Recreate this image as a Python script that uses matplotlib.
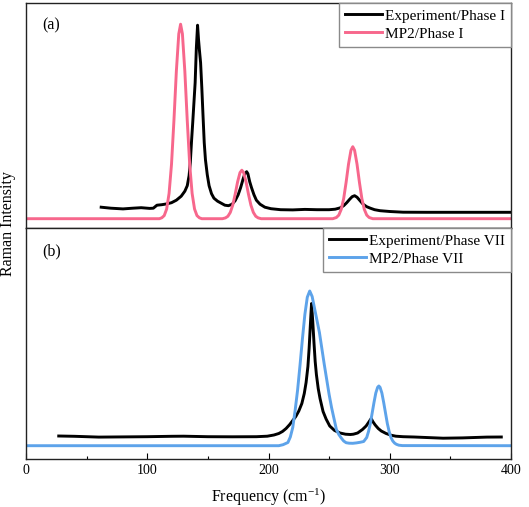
#!/usr/bin/env python3
"""Raman spectra: experiment vs MP2 for phase I (a) and phase VII (b)."""

import matplotlib
matplotlib.use("Agg")
import matplotlib.pyplot as plt
from matplotlib.ticker import MultipleLocator

# ---------------------------------------------------------------------------
# Data (intensity in arbitrary units)
# ---------------------------------------------------------------------------

# (a) Experiment / Phase I
exp_a_freq = [62, 70, 80, 88, 95, 102, 105, 108, 112, 116, 120, 124, 128, 131, 133,
              134.5, 135.5, 136.5, 137.5, 138.5, 139.5, 140.5, 141.5, 142.3, 143, 144,
              145, 146, 147, 148, 149.5, 151, 153, 155, 158, 161, 164, 167, 170, 172.5,
              175, 177, 179, 180.5, 182, 183, 184.5, 186, 188, 190, 193, 197, 202, 210,
              220, 230, 240, 250, 255, 259, 262, 264.5, 267, 269, 271, 273, 275.5, 278,
              281, 284, 287.5, 292, 300, 311, 330, 360, 400]
exp_a_int = [20.5, 19.5, 18.8, 19.5, 20, 19.3, 19.5, 22.5, 23, 23.8, 25, 27.5, 31.5, 36.5, 42,
             52, 65, 86, 105, 125, 145, 180, 202.5, 188, 178, 165,
             140, 112, 85, 68, 53, 42, 34, 29.5, 26.5, 24.5, 22.5, 22, 23.5, 27,
             33, 40, 48.5, 54, 56, 54, 46, 40, 33, 27.5, 23.5, 20.5, 19, 18,
             17.8, 18.3, 18, 18, 18.5, 19.8, 22, 25, 28.5, 31, 32, 30.5, 27, 23.5,
             21, 19.5, 18, 17, 16.2, 15.5, 15.4, 15.4, 15.4]

# (a) MP2 / Phase I
mp2_a_freq = [0, 110, 112, 114, 116, 118, 120, 122, 124, 126, 127.5, 129, 131, 133, 135,
              137, 139, 141, 143, 145, 162, 164.5, 166.5, 168.5, 170.5, 172.5, 174.5,
              176.5, 178, 179.5, 181.5, 183.5, 185.5, 187.5, 189.5, 191.5, 194, 253,
              256, 258, 260, 262, 264, 266, 268, 269.5, 271, 273, 275, 277, 279, 281,
              283, 286, 400]
mp2_a_int = [9, 9, 9.9, 12.1, 18.7, 34.3, 63.3, 107, 156.4, 193.8, 203.5, 193.8, 156.4,
             107, 63.3, 34.3, 18.7, 12.1, 9.9, 9, 9, 9.8, 11.4, 15.3, 22.5, 33.4, 45.8,
             55.1, 57.5, 55.1, 45.8, 33.4, 22.5, 15.3, 11.4, 9.8, 9, 9,
             10.2, 12.6, 18.4, 29.1, 45.3, 63.6, 77.4, 81, 77.4, 63.6, 45.3, 29.1, 18.4,
             12.6, 10.2, 9, 9]

# (b) Experiment / Phase VII
exp_b_freq = [27, 40, 60, 80, 100, 120, 130, 150, 170, 190, 199, 204.5, 208.5, 211.5, 214.5,
              217.5, 220, 222.5, 225, 227.5, 229.5, 231, 232.5, 233.5, 234.5, 235.5, 236.5,
              237.5, 238.5, 239.5, 241, 242.5, 245, 247.5, 250.5, 254.5, 259, 263.5, 267.5,
              270, 273.5, 277.5, 280.5, 282.5, 284.7, 286, 288, 290.5, 293, 297, 301, 305,
              311, 320, 330, 344, 360, 380, 392]
exp_b_int = [22.5, 22.2, 21.4, 21.6, 21.8, 22.2, 22.3, 21.8, 21.7, 21.8, 22.3, 23.5, 25, 27,
             30, 34, 38, 42, 47.5, 55, 65, 76, 92, 110, 133, 155, 137, 116, 97, 84,
             70, 60, 47, 39.5, 32.5, 28, 25.5, 24.3, 24, 24.3, 25.5, 29, 32.5,
             36, 40, 37, 33.5, 30, 27.5, 25, 23.3, 22.3, 21.8, 21.5, 21, 20.3, 20.6,
             21.4, 21.5]

# (b) MP2 / Phase VII
mp2_b_freq = [0, 208.5, 212, 216, 218, 220, 222, 224, 226, 228, 230, 232, 234, 236, 238,
              240, 242, 244, 246, 248, 250, 252, 254, 256, 258, 260, 262, 264, 266.5,
              269.5, 272.5, 275.5, 278.5, 281, 282.5, 284, 285.5, 287, 288.5, 290, 291,
              292, 293.5, 295, 296.5, 298, 299.5, 301, 302.5, 304, 305.5, 307.5, 310.5, 400]
mp2_b_int = [12.8, 12.8, 13.8, 16, 21.5, 31, 48.4, 68.5, 93.4, 119.9, 144.1, 161.3, 167.5,
             162, 150, 138, 126, 110, 94, 79, 64, 51, 40, 29, 24, 20.5, 17.5, 15.8,
             15.3, 15.2, 15.6, 16.2, 17, 21, 27, 35, 45.5, 56, 65.5, 71.2, 72.5,
             71.2, 65.5, 56, 45.5, 35, 27, 21, 17.5, 15.4, 14.2, 13.3, 12.9, 12.8]

LABELS_A = ["Experiment/Phase I", "MP2/Phase I"]
LABELS_B = ["Experiment/Phase VII", "MP2/Phase VII"]

PINK = "#F7678C"
BLUE = "#5DA3EA"

# ---------------------------------------------------------------------------
# Plot
# ---------------------------------------------------------------------------

plt.rcParams["font.family"] = ["Liberation Serif", "DejaVu Serif"]
plt.rcParams["mathtext.default"] = "regular"

fig, (ax_a, ax_b) = plt.subplots(
    2, 1, sharex=True, figsize=(5.29, 5.07), dpi=100,
    gridspec_kw={"height_ratios": [225, 230.8]},
)
fig.subplots_adjust(left=26 / 529, right=511 / 529, top=1 - 2.7 / 507,
                    bottom=1 - 458.5 / 507, hspace=0)

lw = 2.1
ax_a.plot(exp_a_freq, exp_a_int, color="black", lw=lw, label=LABELS_A[0])
ax_a.plot(mp2_a_freq, mp2_a_int, color=PINK, lw=lw, label=LABELS_A[1])
ax_b.plot(exp_b_freq, exp_b_int, color="black", lw=lw, label=LABELS_B[0])
ax_b.plot(mp2_b_freq, mp2_b_int, color=BLUE, lw=lw, label=LABELS_B[1])

ax_a.set_ylim(0, 225)
ax_b.set_ylim(0, 230.8)
ax_b.set_xlim(0, 400)

for ax in (ax_a, ax_b):
    ax.set_yticks([])
    for sp in ax.spines.values():
        sp.set_linewidth(1.0)
        sp.set_color("#222222")
    ax.legend(loc="upper right", borderaxespad=0, fancybox=False,
              edgecolor="#8a8a8a", framealpha=1, fontsize=11,
              handlelength=2.4, handletextpad=0.2, labelspacing=0.3,
              borderpad=0.4)

ax_a.tick_params(axis="x", which="both", bottom=False, labelbottom=False)

ax_b.xaxis.set_major_locator(MultipleLocator(100))
ax_b.xaxis.set_minor_locator(MultipleLocator(50))
ax_b.tick_params(axis="x", which="major", direction="in", length=4, width=0.8,
                 labelsize=10, pad=4)
ax_b.tick_params(axis="x", which="minor", direction="in", length=2.5, width=0.8)
ax_b.set_xlabel("Frequency (cm$^{-1}$)", fontsize=11.5, labelpad=7)

ax_a.text(0.034, 0.90, "(a)", transform=ax_a.transAxes, fontsize=11.5, va="center")
ax_b.text(0.034, 0.896, "(b)", transform=ax_b.transAxes, fontsize=11.5, va="center")

fig.text(0.016, 1 - 224 / 507, "Raman Intensity", rotation=90, fontsize=11.5,
         ha="center", va="center")

fig.savefig("out.png", dpi=100)
plt.close(fig)
